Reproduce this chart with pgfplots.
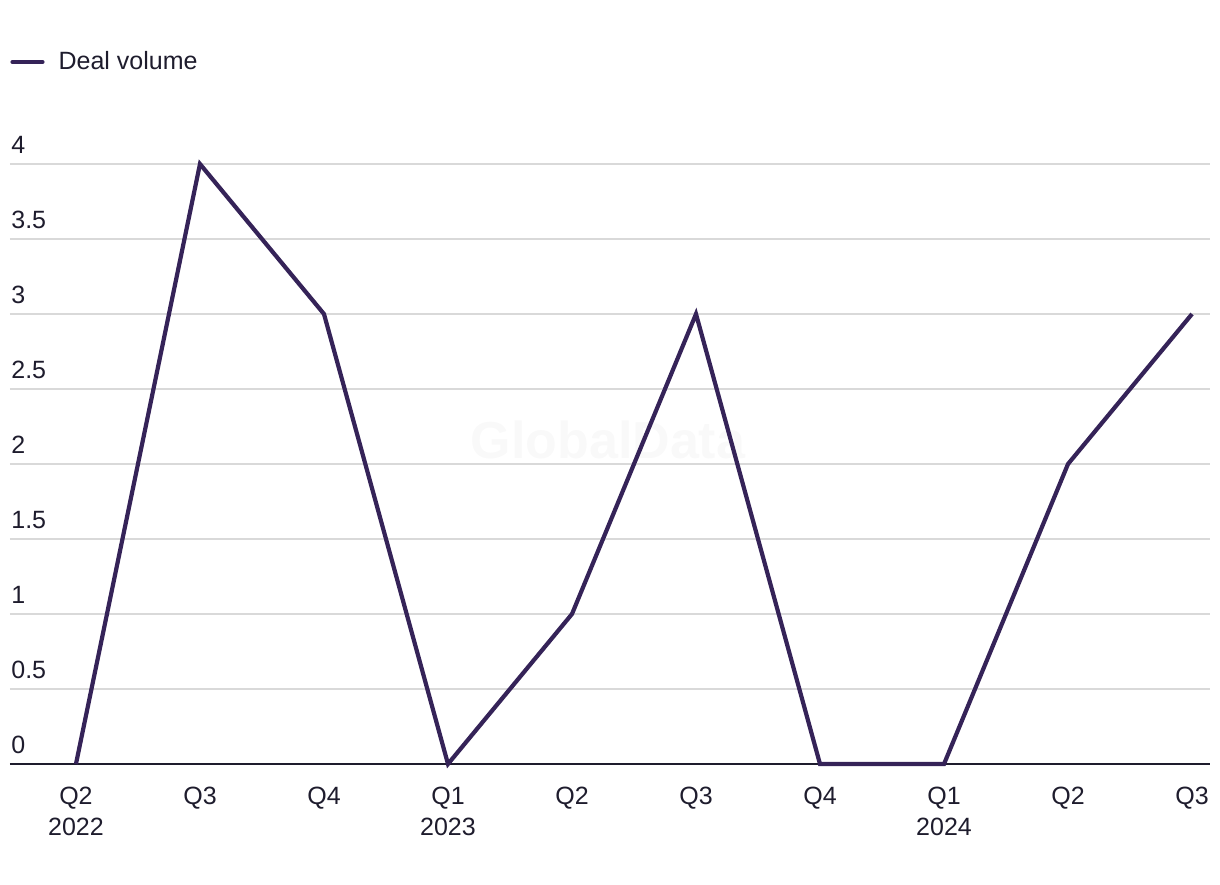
\documentclass[border=0pt]{standalone}
\usepackage{pgfplots}
\pgfplotsset{compat=1.18}
\usepackage{fontspec}
\setmainfont{Liberation Sans}
\definecolor{dealpurple}{RGB}{53,35,88}
\definecolor{txt}{RGB}{30,28,45}
\definecolor{gridgray}{RGB}{217,217,217}
\begin{document}
\fontsize{12.5}{15}\selectfont
\begin{tikzpicture}
% page frame: 1220x884 px at 0.5pt per px, axis box origin at px (10,764)
\useasboundingbox (-5pt,-60pt) rectangle (605pt,382pt);
\begin{axis}[
    at={(0,0)}, anchor=south west,
    scale only axis,
    width=600pt, height=300pt,
    xmin=-0.532, xmax=9.145,
    ymin=0, ymax=4,
    clip=false,
    axis x line*=bottom, axis y line*=left,
    y axis line style={draw=none},
    x axis line style={draw=txt, line width=1pt, -},
    major tick length=0pt,
    ytick={0,0.5,...,4},
    xtick={0,...,9},
    xticklabels={Q2\\2022,Q3,Q4,Q1\\2023,Q2,Q3,Q4,Q1\\2024,Q2,Q3},
    /pgf/number format/assume math mode=true,
    ymajorgrids,
    grid style={gridgray, line width=0.75pt},
    tick label style={text=txt, font=\fontsize{12.5}{15.5}\selectfont},
    yticklabel style={anchor=south west, inner sep=0pt, xshift=0.5pt, yshift=5pt},
    xticklabel style={anchor=north, align=center, inner sep=0pt, yshift=-11.5pt},
    legend style={at={(rel axis cs:0,1.17)}, anchor=west, draw=none, fill=none,
        inner sep=0pt, text=txt, font=\fontsize{12.5}{15}\selectfont,
        legend cell align=left, nodes={inner sep=0pt}, column sep=7pt},
    legend image code/.code={\draw[#1, line cap=round] (0pt,0pt) -- (15pt,0pt);},
]
\node[text=gray!5, font=\bfseries\fontsize{26}{30}\selectfont] at (axis cs:4.29,2.16) {GlobalData};
\addplot[dealpurple, line width=2.1pt, line join=miter] coordinates {
    (0,0) (1,4) (2,3) (3,0) (4,1) (5,3) (6,0) (7,0) (8,2) (9,3)
};
\addlegendentry{Deal volume}
\end{axis}
\end{tikzpicture}
\end{document}
